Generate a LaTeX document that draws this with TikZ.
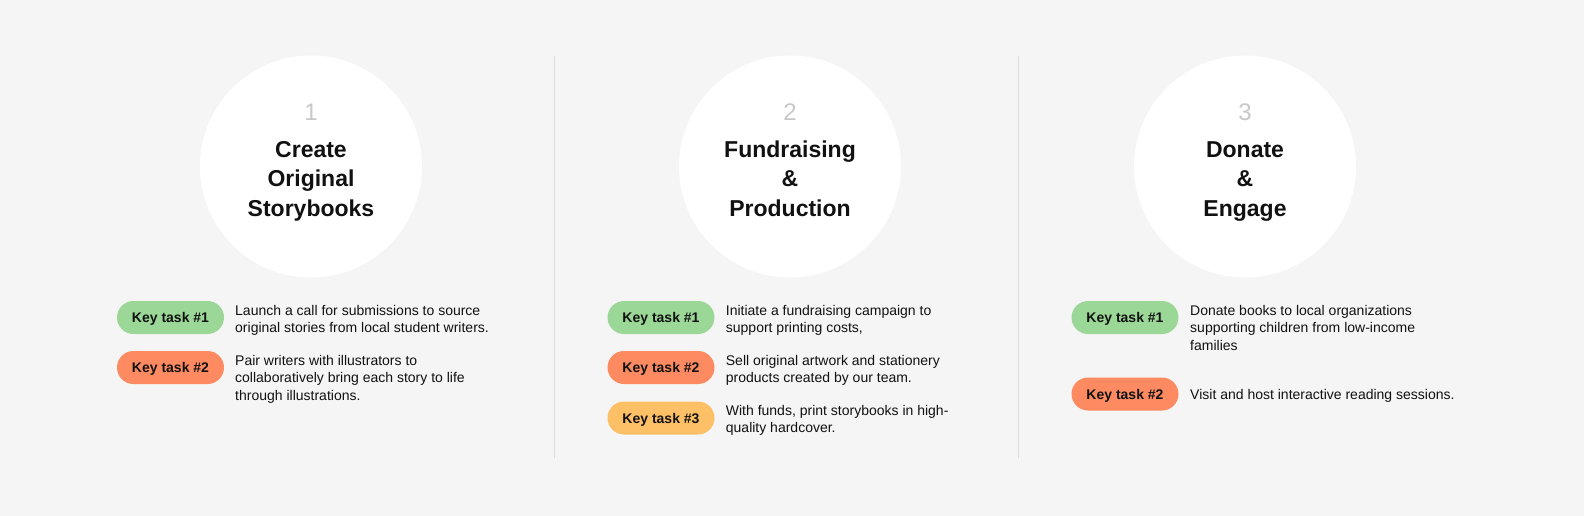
\documentclass[tikz,border=0pt]{standalone}
\usepackage{fontspec}
\setmainfont{Liberation Sans}
\definecolor{bgc}{HTML}{F5F5F5}
\definecolor{divc}{HTML}{DCDCDC}
\definecolor{numc}{HTML}{C8C8C8}
\definecolor{greenc}{HTML}{9BD897}
\definecolor{orangec}{HTML}{FD8A60}
\definecolor{yellowc}{HTML}{FEC066}
\definecolor{inkc}{HTML}{111111}
\begin{document}
\begin{tikzpicture}[x=1pt,y=-1pt,
  disc/.style={circle,fill=white,draw=none,minimum size=222pt,inner sep=0pt},
  numtxt/.style={anchor=base,text=numc,font=\fontsize{24}{24}\selectfont,inner sep=0pt},
  titletxt/.style={anchor=base,text=inkc,inner sep=0pt},
  pill/.style={rectangle,rounded corners=16.5pt,minimum width=107pt,minimum height=33pt,inner sep=0pt,text height=10pt,text depth=0pt,font=\fontsize{14}{14}\selectfont\bfseries,text=inkc},
  desc/.style={anchor=base west,inner sep=0pt,text=inkc},
  divider/.style={draw=divc,line width=1pt}]
\useasboundingbox[fill=bgc] (0,0) rectangle (1584,516);
% dividers
\coordinate (d1t) at (554,56); \coordinate (d1b) at (554,458);
\coordinate (d2t) at (1018,56); \coordinate (d2b) at (1018,458);
\draw[divider] (d1t) -- (d1b);
\draw[divider] (d2t) -- (d2b);
% circles
\node[disc] (c1) at (311,166.5) {};
\node[disc] (c2) at (790,166.5) {};
\node[disc] (c3) at (1245,166.5) {};
\newcommand{\ttl}[1]{\parbox[t]{220pt}{\centering\fontsize{23}{29.6}\selectfont\bfseries #1}}
\newcommand{\dsc}[1]{\parbox[t]{300pt}{\raggedright\fontsize{14}{17.6}\selectfont #1}}
% numbers
\node[numtxt] (n1) at (311,121) {1};
\node[numtxt] (n2) at (790,121) {2};
\node[numtxt] (n3) at (1245,121) {3};
% titles
\node[titletxt] (t1) at (311,157.3) {\ttl{Create\\Original\\Storybooks}};
\node[titletxt] (t2) at (790,157.3) {\ttl{Fundraising\\\&\\Production}};
\node[titletxt] (t3) at (1245,157.3) {\ttl{Donate\\\&\\Engage}};
% section 1
\node[pill,fill=greenc] (p11) at (170.5,317.5) {Key task \#1};
\node[pill,fill=orangec] (p12) at (170.5,367.5) {Key task \#2};
\node[desc] (s11) at (235,315) {\dsc{Launch a call for submissions to source\\original stories from local student writers.}};
\node[desc] (s12) at (235,365.3) {\dsc{Pair writers with illustrators to\\collaboratively bring each story to life\\through illustrations.}};
% section 2
\node[pill,fill=greenc] (p21) at (661,317.5) {Key task \#1};
\node[pill,fill=orangec] (p22) at (661,367.5) {Key task \#2};
\node[pill,fill=yellowc] (p23) at (661,418) {Key task \#3};
\node[desc] (s21) at (725.7,315) {\dsc{Initiate a fundraising campaign to\\support printing costs,}};
\node[desc] (s22) at (725.7,365.3) {\dsc{Sell original artwork and stationery\\products created by our team.}};
\node[desc] (s23) at (725.7,415.3) {\dsc{With funds, print storybooks in high-\\quality hardcover.}};
% section 3
\node[pill,fill=greenc] (p31) at (1125,317.5) {Key task \#1};
\node[pill,fill=orangec] (p32) at (1125,394) {Key task \#2};
\node[desc] (s31) at (1190,315) {\dsc{Donate books to local organizations\\supporting children from low-income\\families}};
\node[desc] (s32) at (1190,399) {\dsc{Visit and host interactive reading sessions.}};
\end{tikzpicture}
\end{document}
